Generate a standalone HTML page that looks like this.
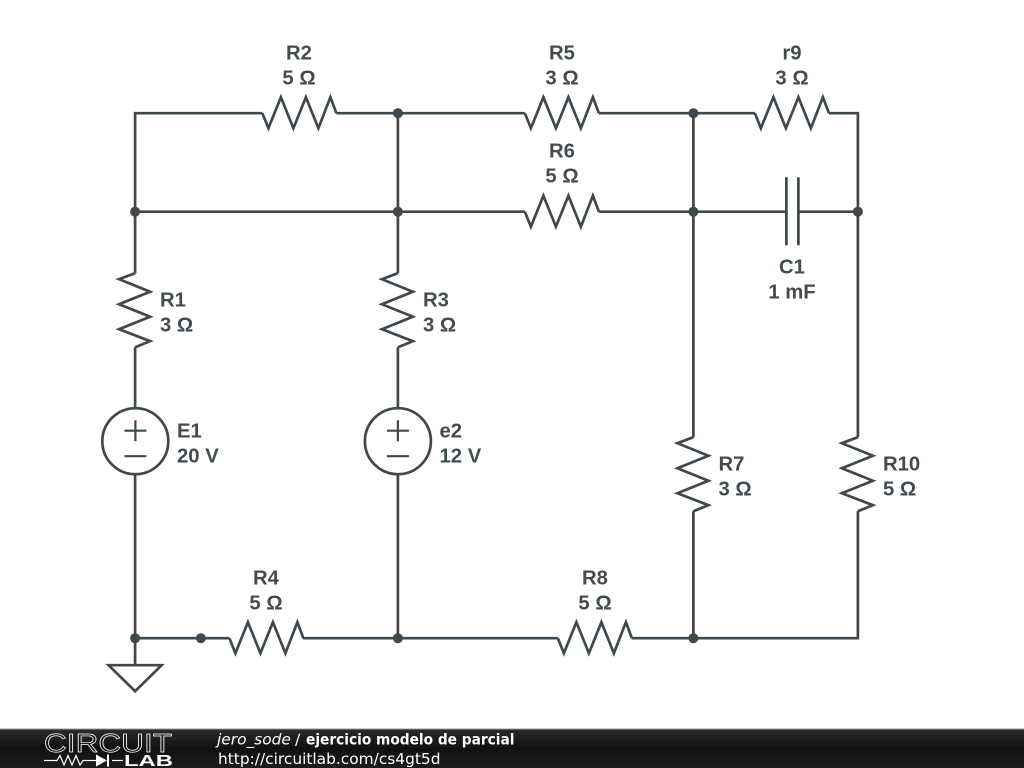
<!DOCTYPE html>
<html>
<head>
<meta charset="utf-8">
<style>
html,body{margin:0;padding:0;background:#fff;width:1024px;height:768px;overflow:hidden}
svg{display:block;position:absolute;left:0;top:0}
.l{font-family:"Liberation Sans",sans-serif;font-weight:bold;font-size:20.3px;fill:#414b50}
.f{font-family:"DejaVu Sans",sans-serif;font-size:15.4px;fill:#fff}
.w{fill:none;stroke:#3f484c;stroke-width:2.7}
</style>
</head>
<body>
<svg width="1024" height="768" viewBox="0 0 1024 768" xmlns="http://www.w3.org/2000/svg">
<defs>
<linearGradient id="g" x1="0" y1="0" x2="0" y2="1"><stop offset="0" stop-color="#2b2b2b"/><stop offset="0.5" stop-color="#111"/><stop offset="1" stop-color="#1c1c1c"/></linearGradient>
<path id="h" class="w" d="M-37,0 L-31,15 L-18.5,-16 L-6,15 L6.5,-16 L19,15 L31,-16 L37,0"/>
<path id="v" class="w" d="M0,-37 L-16,-31 L15,-18.5 L-16,-6 L15,6.5 L-16,19 L15,31 L0,37"/>
</defs>
<rect width="1024" height="768" fill="#fff"/>

<g transform="translate(0.4,0.2)">
<!-- wires -->
<g class="w">
<path d="M134.7,273 V113 H262"/>
<path d="M336,113 H524.5"/>
<path d="M598.5,113 H754.5"/>
<path d="M828.5,113 H857.5 V437"/>
<path d="M134.7,211.5 H524.5"/>
<path d="M598.5,211.5 H786"/>
<path d="M798,211.5 H857.5"/>
<path d="M397.5,113 V273"/>
<path d="M693,113 V437"/>
<path d="M134.7,347 V408"/>
<path d="M397.5,347 V408"/>
<path d="M134.7,475 V665"/>
<path d="M397.5,475 V638"/>
<path d="M693,511 V638"/>
<path d="M857.5,511 V638 H631.5"/>
<path d="M557.5,638 H302.5"/>
<path d="M229,638 H134.7"/>
<!-- capacitor -->
<path d="M786,177 V245"/>
<path d="M798,177 V245"/>
<!-- ground -->
<path d="M108.2,665 H161.2 L134.7,691 Z"/>
</g>
<!-- sources -->
<g fill="none" stroke="#3f484c" stroke-width="2.7">
<circle cx="134.9" cy="441" r="33"/>
<circle cx="397.5" cy="441" r="33"/>
</g>
<g fill="none" stroke="#3f484c" stroke-width="2.2">
<path d="M124,430.5 H146 M135,420 V441 M124,456 H146"/>
<path d="M386.5,430.5 H408.5 M397.5,420 V441 M386.5,456 H408.5"/>
</g>

<!-- resistors -->
<use href="#h" x="299" y="113"/>
<use href="#h" x="561.5" y="113"/>
<use href="#h" x="791.5" y="113"/>
<use href="#h" x="561.5" y="211.5"/>
<use href="#h" x="266" y="638"/>
<use href="#h" x="594.5" y="638"/>
<use href="#v" x="134.7" y="310"/>
<use href="#v" x="397.5" y="310"/>
<use href="#v" x="693" y="474"/>
<use href="#v" x="857.5" y="474"/>

<!-- nodes -->
<g fill="#3f484c">
<circle cx="397.5" cy="113" r="5"/>
<circle cx="693" cy="113" r="5"/>
<circle cx="134.7" cy="211.5" r="5"/>
<circle cx="397.5" cy="211.5" r="5"/>
<circle cx="693" cy="211.5" r="5"/>
<circle cx="857.5" cy="211.5" r="5"/>
<circle cx="134.7" cy="638" r="5"/>
<circle cx="200.5" cy="638" r="5"/>
<circle cx="397.5" cy="638" r="5"/>
<circle cx="693" cy="638" r="5"/>
</g>
</g>

<!-- labels -->
<g class="l" text-anchor="middle">
<text x="299" y="59.7">R2</text><text x="299" y="84.7">5 Ω</text>
<text x="562" y="59.7">R5</text><text x="562" y="84.7">3 Ω</text>
<text x="792" y="59.7">r9</text><text x="792" y="84.7">3 Ω</text>
<text x="562" y="157.7">R6</text><text x="562" y="182.7">5 Ω</text>
<text x="792" y="273.7">C1</text><text x="792" y="298.7">1 mF</text>
<text x="266" y="584.7">R4</text><text x="266" y="609.7">5 Ω</text>
<text x="595" y="584.7">R8</text><text x="595" y="609.7">5 Ω</text>
</g>
<g class="l">
<text x="160" y="306.7">R1</text><text x="160" y="331.7">3 Ω</text>
<text x="423" y="306.7">R3</text><text x="423" y="331.7">3 Ω</text>
<text x="177" y="437.7">E1</text><text x="177" y="462.7">20 V</text>
<text x="439.5" y="437.7">e2</text><text x="439.5" y="462.7">12 V</text>
<text x="718.5" y="470.7">R7</text><text x="718.5" y="495.7">3 Ω</text>
<text x="883" y="470.7">R10</text><text x="883" y="495.7">5 Ω</text>
</g>

<!-- footer -->
<rect x="0" y="729" width="1024" height="39" fill="url(#g)"/>
<rect x="0" y="728.5" width="1024" height="1" fill="#9a9a9a"/>
<text x="44" y="752" font-family="'Liberation Sans',sans-serif" font-size="26" fill="none" stroke="#fff" stroke-width="0.7" textLength="128" lengthAdjust="spacingAndGlyphs">CIRCUIT</text>
<path d="M44,760.5 H57 L60,755.5 L64,765 L68,755.5 L72,765 L76,755.5 L80,765 L83,760.5 H96 M112,760.5 H123" fill="none" stroke="#fff" stroke-width="1.2"/>
<path d="M96,754.5 L107,760.5 L96,766.5 Z" fill="#fff"/>
<rect x="107" y="754.5" width="2" height="12" fill="#fff"/>
<text x="124" y="766" font-family="'Liberation Sans',sans-serif" font-weight="bold" font-size="16" fill="#fff" textLength="49" lengthAdjust="spacingAndGlyphs">LAB</text>
<text class="f" x="217" y="744.5" font-style="italic">jero_sode</text>
<text class="f" x="295" y="744.5">/</text>
<text class="f" x="306" y="744.5" font-weight="bold" textLength="208.5" lengthAdjust="spacingAndGlyphs">ejercicio modelo de parcial</text>
<text class="f" x="218" y="764">http://circuitlab.com/cs4gt5d</text>
</svg>
</body>
</html>
